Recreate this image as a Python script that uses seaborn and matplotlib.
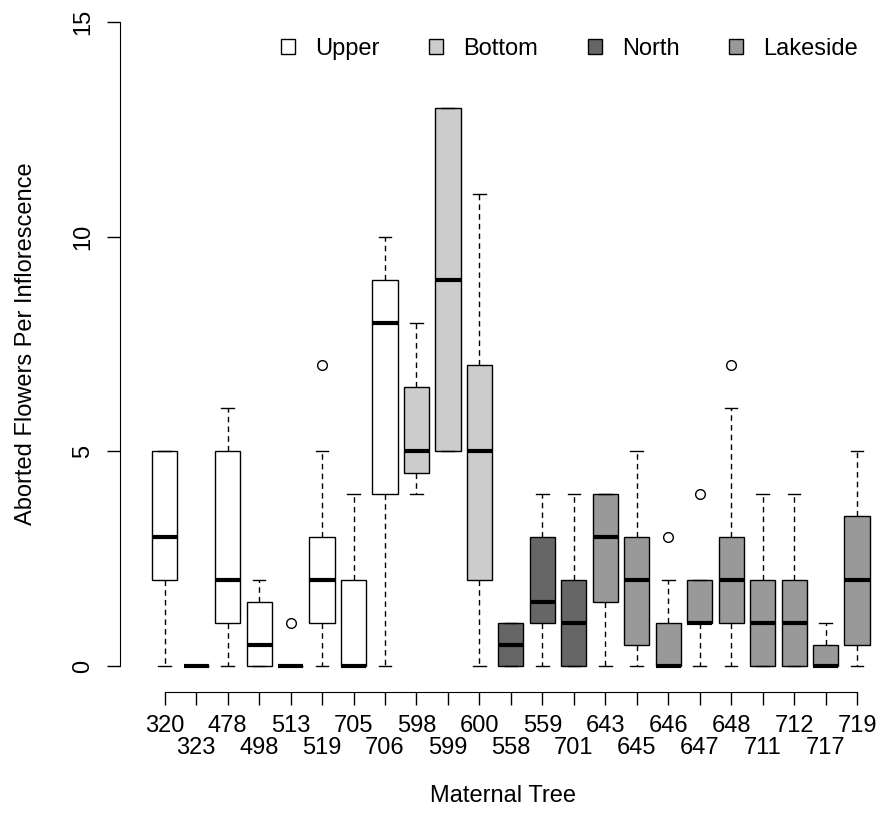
import matplotlib
matplotlib.use("Agg")
import matplotlib.pyplot as plt
from matplotlib.patches import Patch
import seaborn as sns
import pandas as pd

# maternal trees in plotting order, grouped by site
upper_trees = ["320", "323", "478", "498", "513", "519", "705", "706"]
bottom_trees = ["598", "599", "600"]
north_trees = ["558", "559", "701"]
lakeside_trees = ["643", "645", "646", "647", "648", "711", "712", "717", "719"]

upper_vals = [
    [0, 2, 3, 5, 5],
    [0, 0, 0, 0, 0],
    [0, 1, 2, 5, 6],
    [0, 0, 0.5, 1.5, 2],
    [0, 0, 0, 0, 0, 0, 0, 0, 1],
    [0, 1, 1, 2, 2, 3, 3, 5, 7],
    [0, 0, 0, 2, 4],
    [0, 4, 8, 9, 10],
]
bottom_vals = [
    [4, 4.5, 5, 6.5, 8],
    [5, 5, 9, 13, 13],
    [0, 2, 5, 7, 11],
]
north_vals = [
    [0, 0, 0.5, 1, 1],
    [0, 1, 1.5, 3, 4],
    [0, 0, 1, 2, 4],
]
lakeside_vals = [
    [0, 1.5, 3, 4, 4],
    [0, 0.5, 2, 3, 5],
    [0, 0, 0, 0, 0, 1, 1, 2, 3],
    [0, 1, 1, 1, 1, 2, 2, 2, 4],
    [0, 1, 1, 2, 2, 3, 3, 6, 7],
    [0, 0, 1, 2, 4],
    [0, 0, 1, 2, 4],
    [0, 0, 0, 0.5, 1],
    [0, 0.5, 2, 3.5, 5],
]

sites = ["Upper", "Bottom", "North", "Lakeside"]
site_colors = {"Upper": "#ffffff", "Bottom": "#cccccc", "North": "#666666", "Lakeside": "#999999"}

rows = []
for site, trees, vals in zip(sites,
                             [upper_trees, bottom_trees, north_trees, lakeside_trees],
                             [upper_vals, bottom_vals, north_vals, lakeside_vals]):
    for t, v in zip(trees, vals):
        for x in v:
            rows.append({"site": site, "tree": t, "aborted": x})
df = pd.DataFrame(rows)
order = upper_trees + bottom_trees + north_trees + lakeside_trees

plt.rcParams["font.family"] = ["Liberation Sans", "DejaVu Sans"]
fs = 17

fig = plt.figure(figsize=(8.82, 8.13), dpi=100)
ax = fig.add_axes([120 / 882, (813 - 692) / 813, (886 - 120) / 882, 696 / 813])

sns.boxplot(data=df, x="tree", y="aborted", hue="site", order=order, hue_order=sites,
            palette=site_colors, dodge=False, width=0.8, saturation=1,
            linecolor="black", linewidth=1, fliersize=7, legend=False,
            whiskerprops=dict(linestyle=(0, (4, 3))),
            medianprops=dict(linewidth=3, color="black"),
            flierprops=dict(marker="o", markerfacecolor="white", markeredgecolor="black"),
            ax=ax)

ax.set_xlim(-1.42, 22.92)
ax.set_ylim(-0.6, 15.6)
for s in ["top", "right"]:
    ax.spines[s].set_visible(False)
ax.spines["left"].set_bounds(0, 15)
ax.spines["bottom"].set_bounds(0, len(order) - 1)
ax.grid(False)

ax.set_yticks([0, 5, 10, 15])
ax.tick_params(axis="y", labelsize=fs, length=9.4, width=1, pad=9, labelrotation=90)
for lbl in ax.get_yticklabels():
    lbl.set_va("center")

# R-style staggered labels: even positions on the first row, odd on the second
even = list(range(0, len(order), 2))
odd = list(range(1, len(order), 2))
ax.set_xticks(even, [order[i] for i in even])
ax.set_xticks(odd, [order[i] for i in odd], minor=True)
ax.tick_params(axis="x", which="major", labelsize=fs, length=9.4, width=1, pad=7)
ax.tick_params(axis="x", which="minor", labelsize=fs, length=9.4, width=1, pad=23)

ax.set_xlabel("Maternal Tree", fontsize=fs)
ax.set_ylabel("Aborted Flowers Per Inflorescence", fontsize=fs)
ax.xaxis.set_label_coords(0.5, -0.134)
ax.yaxis.set_label_coords(-0.108, 0.5)

handles = [Patch(facecolor=site_colors[s], edgecolor="black", linewidth=1) for s in sites]
ax.legend(handles, sites, loc="center left", bbox_to_anchor=(281 / 882, 1 - 49 / 813),
          bbox_transform=fig.transFigure, ncol=4, frameon=False, fontsize=fs,
          handlelength=0.6, handleheight=0.6, handletextpad=0.85, columnspacing=2.1,
          borderpad=0, borderaxespad=0)

fig.savefig("out.png", dpi=100)
